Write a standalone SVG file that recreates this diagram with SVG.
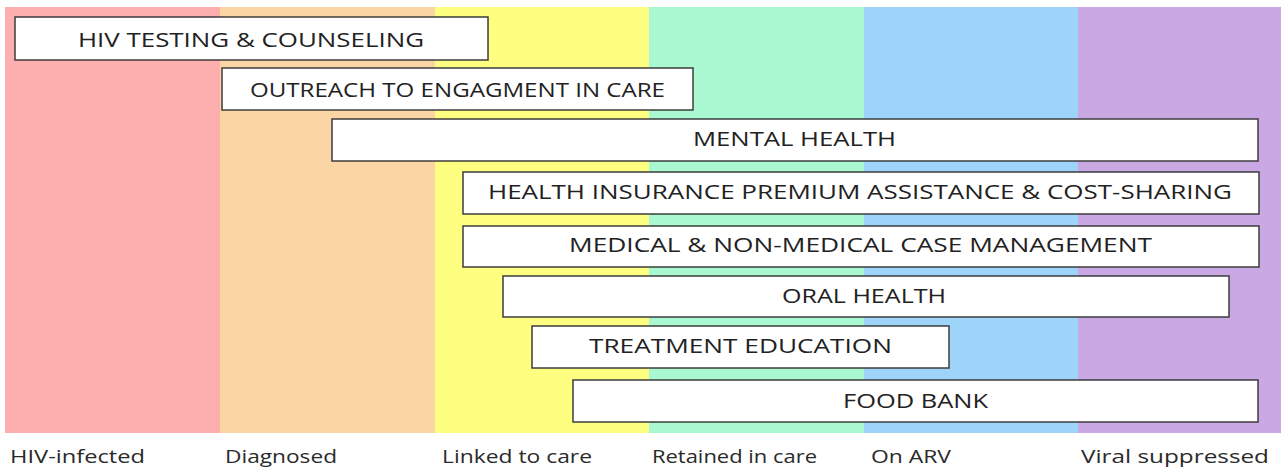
<svg xmlns="http://www.w3.org/2000/svg" width="1281" height="470" viewBox="0 0 1281 470">
<style>
.box{fill:#ffffff;stroke:#3c3c3c;stroke-width:1.5}
.t{font-family:"Open Sans","Liberation Sans",sans-serif;font-size:20px;fill:#222222}
.lbl{font-family:"Open Sans","Liberation Sans",sans-serif;font-size:19px;fill:#2a2a2a}
</style>
<rect width="1281" height="470" fill="#ffffff"/>
<g id="bands">
<rect x="5" y="7" width="215" height="426" fill="#FDAEAE"/>
<rect x="220" y="7" width="215" height="426" fill="#FCD5A4"/>
<rect x="435" y="7" width="214" height="426" fill="#FEFE80"/>
<rect x="649" y="7" width="215" height="426" fill="#A9F8D1"/>
<rect x="864" y="7" width="214" height="426" fill="#9ED4F9"/>
<rect x="1078" y="7" width="203" height="426" fill="#C9A8E3"/>
</g>
<g id="connectors"></g>
<g id="n1"><rect class="box" x="15" y="17" width="473" height="43"/><text class="t" x="78" y="47" textLength="346" lengthAdjust="spacingAndGlyphs">HIV TESTING &amp; COUNSELING</text></g>
<g id="n2"><rect class="box" x="222" y="68" width="471" height="42"/><text class="t" x="250" y="97" textLength="415" lengthAdjust="spacingAndGlyphs">OUTREACH TO ENGAGMENT IN CARE</text></g>
<g id="n3"><rect class="box" x="332" y="119" width="926" height="42"/><text class="t" x="693" y="146" textLength="203" lengthAdjust="spacingAndGlyphs">MENTAL HEALTH</text></g>
<g id="n4"><rect class="box" x="463" y="172" width="796" height="42"/><text class="t" x="488" y="199" textLength="744" lengthAdjust="spacingAndGlyphs">HEALTH INSURANCE PREMIUM ASSISTANCE &amp; COST-SHARING</text></g>
<g id="n5"><rect class="box" x="463" y="226" width="796" height="41"/><text class="t" x="569" y="252" textLength="583" lengthAdjust="spacingAndGlyphs">MEDICAL &amp; NON-MEDICAL CASE MANAGEMENT</text></g>
<g id="n6"><rect class="box" x="503" y="276" width="726" height="41"/><text class="t" x="782" y="303" textLength="164" lengthAdjust="spacingAndGlyphs">ORAL HEALTH</text></g>
<g id="n7"><rect class="box" x="532" y="326" width="417" height="42"/><text class="t" x="589" y="353" textLength="303" lengthAdjust="spacingAndGlyphs">TREATMENT EDUCATION</text></g>
<g id="n8"><rect class="box" x="573" y="380" width="685" height="42"/><text class="t" x="843" y="408" textLength="145" lengthAdjust="spacingAndGlyphs">FOOD BANK</text></g>
<g id="labels">
<text class="lbl" x="10" y="463" textLength="135" lengthAdjust="spacingAndGlyphs">HIV-infected</text>
<text class="lbl" x="225" y="463" textLength="112" lengthAdjust="spacingAndGlyphs">Diagnosed</text>
<text class="lbl" x="442" y="463" textLength="150" lengthAdjust="spacingAndGlyphs">Linked to care</text>
<text class="lbl" x="652" y="463" textLength="165" lengthAdjust="spacingAndGlyphs">Retained in care</text>
<text class="lbl" x="871" y="463" textLength="80" lengthAdjust="spacingAndGlyphs">On ARV</text>
<text class="lbl" x="1081" y="463" textLength="188" lengthAdjust="spacingAndGlyphs">Viral suppressed</text>
</g>
</svg>
